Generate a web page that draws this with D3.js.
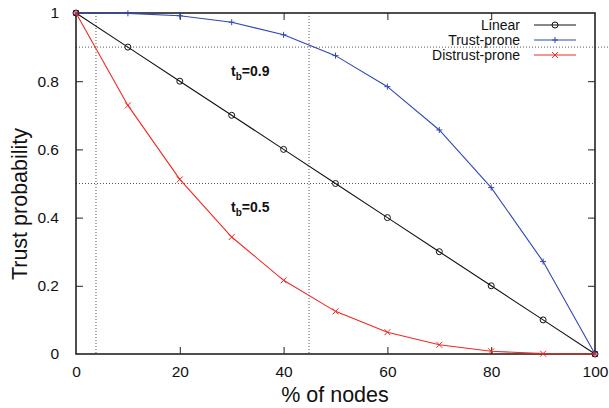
<!DOCTYPE html>
<html><head><meta charset="utf-8">
<script src="https://cdn.jsdelivr.net/npm/d3@7"></script>
<style>body{margin:0;background:#fff}svg{display:block}text{font-family:"Liberation Sans",Arial,sans-serif}</style>
</head><body>
<svg id="c" width="609" height="408"></svg>
<script>
const xs = [0,10,20,30,40,50,60,70,80,90,100];
const linear = [1,0.9,0.8,0.7,0.6,0.5,0.4,0.3,0.2,0.1,0];
const trustProne = [1,0.999,0.992,0.973,0.936,0.875,0.784,0.657,0.488,0.271,0];
const distrustProne = [1,0.729,0.512,0.343,0.216,0.125,0.064,0.027,0.008,0.001,0];
const xTicks = [0,20,40,60,80,100];
const yTicks = [0,0.2,0.4,0.6,0.8,1];
const yTickLabels = ["0","0.2","0.4","0.6","0.8","1"];
const refY = [0.9,0.5];
const refX = [3.85,44.9];
const seriesNames = ["Linear","Trust-prone","Distrust-prone"];

const svg = d3.select("#c");
const L=76,R=595,T=13,B=354;
const x = d3.scaleLinear().domain([0,100]).range([L,R]);
const y = d3.scaleLinear().domain([0,1]).range([B,T]);

// reference dotted lines
const g0 = svg.append("g").attr("stroke","#555").attr("stroke-width",1).attr("stroke-dasharray","1,2");
refY.forEach((v,i)=>g0.append("line").attr("x1",L).attr("x2",i===0?609:R).attr("y1",y(v)).attr("y2",y(v)));
refX.forEach(v=>g0.append("line").attr("x1",x(v)).attr("x2",x(v)).attr("y1",T).attr("y2",B));

// axes with inward ticks
const fs = 15.5;
const axB = svg.append("g").attr("transform",`translate(0,${B})`)
  .call(d3.axisBottom(x).tickValues(xTicks).tickSize(-7).tickPadding(12).tickFormat(d3.format("d")));
const axT = svg.append("g").attr("transform",`translate(0,${T})`)
  .call(d3.axisTop(x).tickValues(xTicks).tickSize(-7).tickFormat(""));
const axL = svg.append("g").attr("transform",`translate(${L},0)`)
  .call(d3.axisLeft(y).tickValues(yTicks).tickSize(-7).tickPadding(17).tickFormat((d,i)=>yTickLabels[i]));
const axR = svg.append("g").attr("transform",`translate(${R},0)`)
  .call(d3.axisRight(y).tickValues(yTicks).tickSize(-7).tickFormat(""));
[axB,axT,axL,axR].forEach(a=>{a.select(".domain").remove();a.selectAll("line").attr("stroke","#222").attr("stroke-width",1);
  a.selectAll("text").attr("font-size",fs).attr("fill","#111").attr("font-family","Liberation Sans,Arial,sans-serif");});
axB.selectAll(".tick line").filter((d)=>d===0||d===100).remove();
axT.selectAll(".tick line").filter((d)=>d===0||d===100).remove();
axL.selectAll(".tick line").filter((d)=>d===0||d===1).remove();
axR.selectAll(".tick line").filter((d)=>d===0||d===1).remove();

svg.append("rect").attr("x",L).attr("y",T).attr("width",R-L).attr("height",B-T)
  .attr("fill","none").attr("stroke","#222").attr("stroke-width",1.6);

// axis titles
svg.append("text").attr("x",335).attr("y",402).attr("text-anchor","middle").attr("font-size",21.5).attr("fill","#111").text("% of nodes");
svg.append("text").attr("transform",`translate(27,204) rotate(-90)`).attr("text-anchor","middle").attr("font-size",21.5).attr("fill","#111").text("Trust probability");

// series
const series = [
  {name:seriesNames[0],vals:linear,color:"#111",mk:"o"},
  {name:seriesNames[1],vals:trustProne,color:"#2f48b4",mk:"+"},
  {name:seriesNames[2],vals:distrustProne,color:"#ee2a22",mk:"x"}
];
function marker(g,cx,cy,s){
  if(s.mk==="o") g.append("circle").attr("cx",cx).attr("cy",cy).attr("r",3).attr("fill","none").attr("stroke",s.color).attr("stroke-width",1);
  else if(s.mk==="+") g.append("path").attr("d",`M${cx-3},${cy}H${cx+3}M${cx},${cy-3}V${cy+3}`).attr("stroke",s.color).attr("stroke-width",1);
  else g.append("path").attr("d",`M${cx-3},${cy-3}L${cx+3},${cy+3}M${cx-3},${cy+3}L${cx+3},${cy-3}`).attr("stroke",s.color).attr("stroke-width",1);
}
const line = d3.line().x((d,i)=>x(xs[i])).y(d=>y(d));
series.forEach(s=>{
  const g = svg.append("g");
  g.append("path").attr("d",line(s.vals)).attr("fill","none").attr("stroke",s.color).attr("stroke-width",1.1);
  s.vals.forEach((v,i)=>marker(g,x(xs[i]),y(v),s));
});

// legend
series.forEach((s,i)=>{
  const ly = 25 + i*15;
  svg.append("text").attr("x",520).attr("y",ly+5).attr("text-anchor","end").attr("font-size",14).attr("fill","#111").text(s.name);
  const g = svg.append("g");
  g.append("line").attr("x1",534).attr("x2",576).attr("y1",ly).attr("y2",ly).attr("stroke",s.color).attr("stroke-width",1);
  marker(g,555,ly,s);
});

// annotations
function tb(xp,yp,val){
  const t = svg.append("text").attr("x",xp).attr("y",yp).attr("font-size",14).attr("font-weight","bold").attr("fill","#111");
  t.append("tspan").text("t");
  t.append("tspan").attr("font-size",10).attr("dy",4).text("b");
  t.append("tspan").attr("dy",-4).text("="+val);
}
tb(231,76,"0.9");
tb(231,212,"0.5");
</script>
</body></html>
